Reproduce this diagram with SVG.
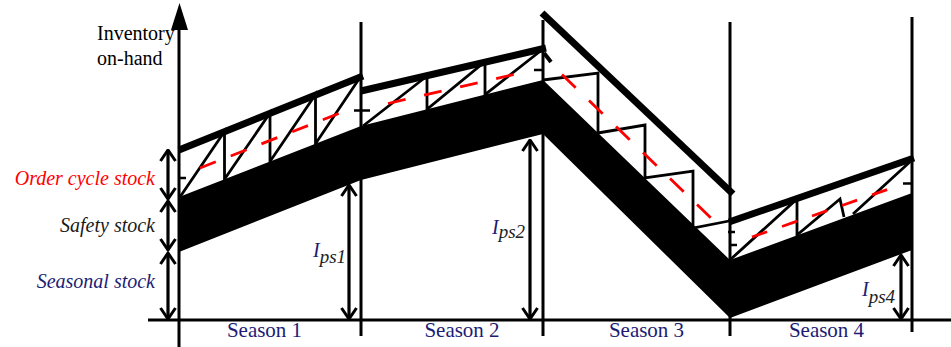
<svg xmlns="http://www.w3.org/2000/svg" width="951" height="347" viewBox="0 0 951 347">
<style>
.ax{stroke:#000;stroke-width:3;fill:none}
.div{stroke:#000;stroke-width:3;fill:none}
.top{stroke:#000;stroke-width:7;fill:none}
.saw{stroke:#000;stroke-width:2.8;fill:none;stroke-linejoin:miter}
.tick{stroke:#000;stroke-width:2.5;fill:none}
.avg{stroke:#ff0000;stroke-width:2.8;fill:none}
.dim{stroke:#000;stroke-width:3.2;fill:none}
.lbl{font-family:"Liberation Serif","Times New Roman",serif;font-size:20px}
.ssn{font-size:21px}
.it{font-style:italic}
.navy{fill:#1c1c74}
</style>
<defs>
<marker id="v" viewBox="0 0 14 18" refX="12.5" refY="9" markerWidth="14" markerHeight="18" markerUnits="userSpaceOnUse" orient="auto-start-reverse">
<path d="M1.5,1.5 L12.5,9 L1.5,16.5" fill="none" stroke="#000" stroke-width="3"/>
</marker>
</defs>
<rect width="951" height="347" fill="#fff"/>
<g id="axes">
<line class="ax" x1="179" y1="25" x2="179" y2="347"/>
<polygon points="179.5,3 171,30 188,30" fill="#000"/>
<line class="ax" x1="148" y1="320" x2="951" y2="320"/>
<line class="div" x1="361" y1="22" x2="361" y2="336"/>
<line class="div" x1="543" y1="20" x2="543" y2="336"/>
<line class="div" x1="730" y1="22" x2="730" y2="336"/>
<line class="div" x1="912" y1="17" x2="912" y2="332"/>
</g>
<g id="safety-band">
<polygon points="179,197 361,126 543,80 730,260 912,193 912,250 730,318 543,134 361,180 179,252" fill="#000"/>
</g>
<g id="season1">
<line class="top" x1="179" y1="150" x2="363" y2="76"/>
<path class="saw" d="M180,197 L224.5,131.5 L224.5,179.3 L270,113 L270,161.5 L315.5,94.5 L315.5,143.7 L361,76"/>
<path class="avg" d="M200,168 L340,113" stroke-dasharray="17 16"/>
<line class="tick" x1="180" y1="178" x2="186" y2="178"/>
<line class="tick" x1="354" y1="110.5" x2="370" y2="110.5"/>
</g>
<g id="season2">
<line class="top" x1="361" y1="91" x2="546" y2="48"/>
<path class="saw" d="M363,126 L427,76 L427,109.3 L485,61.7 L485,94.7 L543,49"/>
<path class="avg" d="M388,103.5 L518,73.5" stroke-dasharray="18 19"/>
<line class="tick" x1="534" y1="70" x2="543" y2="70"/>
<line x1="544" y1="53" x2="551" y2="62" stroke="#000" stroke-width="4"/>
</g>
<g id="season3">
<line class="top" x1="542" y1="13" x2="733" y2="194"/>
<path class="saw" d="M543,80 L598,73 L598,133 L645,125 L645,178 L693,171 L693,228 L729,221"/>
<path class="avg" d="M562,74.5 L712,219" stroke-dasharray="19 18.5"/>
</g>
<g id="season4">
<line class="top" x1="729" y1="222" x2="914" y2="158"/>
<path class="saw" d="M731,259 L797,199 L797,235 L840,199 L844,217 M853,214 L912,160"/>
<path class="avg" d="M752,237 L889,189" stroke-dasharray="16 15.8"/>
<line class="tick" x1="728" y1="232" x2="735" y2="232"/>
<line class="tick" x1="730" y1="245" x2="737" y2="245"/>
<line class="tick" x1="903" y1="183.5" x2="912" y2="183.5"/>
</g>
<g id="connectors">
<line class="dim" x1="168" y1="150" x2="168" y2="199" marker-start="url(#v)" marker-end="url(#v)"/>
<line class="dim" x1="168" y1="201" x2="168" y2="250" marker-start="url(#v)" marker-end="url(#v)"/>
<line class="dim" x1="168" y1="253" x2="168" y2="319" marker-start="url(#v)" marker-end="url(#v)"/>
<line class="dim" x1="349" y1="185" x2="349" y2="319" marker-start="url(#v)" marker-end="url(#v)"/>
<line class="dim" x1="530" y1="140" x2="530" y2="319" marker-start="url(#v)" marker-end="url(#v)"/>
<line class="dim" x1="901" y1="255" x2="901" y2="319" marker-start="url(#v)" marker-end="url(#v)"/>
</g>
<g id="labels">
<text class="lbl" x="97" y="40" fill="#000">Inventory</text>
<text class="lbl" x="97" y="65" fill="#000">on-hand</text>
<text class="lbl it" x="155" y="185" text-anchor="end" fill="#ff0000">Order cycle stock</text>
<text class="lbl it" x="155" y="232" text-anchor="end" fill="#1a1a1a">Safety stock</text>
<text class="lbl it navy" x="155" y="288" text-anchor="end">Seasonal stock</text>
<text class="lbl ssn navy" x="264.5" y="337" text-anchor="middle">Season 1</text>
<text class="lbl ssn navy" x="462" y="337" text-anchor="middle">Season 2</text>
<text class="lbl ssn navy" x="646.5" y="337" text-anchor="middle">Season 3</text>
<text class="lbl ssn navy" x="826.5" y="337" text-anchor="middle">Season 4</text>
<text class="lbl it" x="313" y="257" font-size="23"><tspan class="navy">I</tspan><tspan fill="#222" dy="6" font-size="19">ps1</tspan></text>
<text class="lbl it" x="492" y="234" font-size="23"><tspan class="navy">I</tspan><tspan fill="#222" dy="4" font-size="19">ps2</tspan></text>
<text class="lbl it" x="862" y="296" font-size="23"><tspan class="navy">I</tspan><tspan fill="#222" dy="7" font-size="19">ps4</tspan></text>
</g>
</svg>
